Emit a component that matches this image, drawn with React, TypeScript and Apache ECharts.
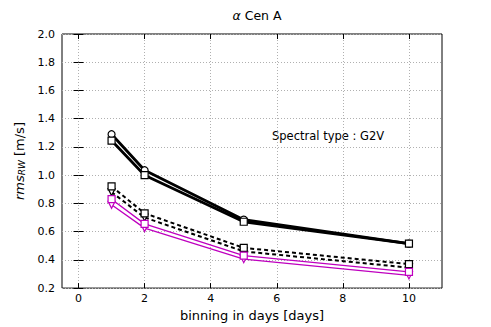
import React, { useEffect, useRef } from "react";
import * as echarts from "echarts";

const binning = [1, 2, 5, 10];
const solidCircle = [1.29, 1.035, 0.685, 0.515];
const solidSquare = [1.245, 1.0, 0.67, 0.515];
const dashedSquare = [0.92, 0.73, 0.485, 0.37];
const dashedTriangle = [0.88, 0.7, 0.46, 0.345];
const magentaSquare = [0.83, 0.655, 0.43, 0.315];
const magentaTriangle = [0.79, 0.625, 0.405, 0.29];

const xTicks = [0, 2, 4, 6, 8, 10];

const FONT = "DejaVu Sans";
const MAGENTA = "#bf00bf";

function pairs(vals: number[]) {
  return binning.map((b, i) => [b, vals[i]]);
}

export default function App() {
  const ref = useRef<HTMLDivElement>(null);
  useEffect(() => {
    const chart = echarts.init(ref.current!, null, { renderer: "svg" });
    const mk = (
      name: string,
      data: number[],
      color: string,
      width: number,
      type: any,
      symbol: string,
      size: any,
      z: number
    ) => ({
      name,
      type: "line",
      data: pairs(data),
      symbol,
      symbolSize: size,
      showAllSymbol: true,
      lineStyle: { color, width, type },
      itemStyle: { color: "#ffffff", borderColor: color, borderWidth: 1.2 },
      z,
    });
    const tri = "path://M0,0 L10,0 L5,9 Z";
    chart.setOption({
      animation: false,
      title: {
        text: "{a|α} Cen A",
        left: 252,
        textAlign: "center",
        top: 4,
        textStyle: {
          fontFamily: FONT,
          fontSize: 12.5,
          fontWeight: "normal",
          color: "#000",
          rich: { a: { fontFamily: FONT, fontStyle: "italic", fontSize: 12.5, color: "#000" } },
        },
      },
      grid: { left: 62, right: 49, top: 34, bottom: 33, show: true, borderColor: "#000", borderWidth: 1, backgroundColor: "transparent" },
      xAxis: [
        {
          type: "value",
          min: -0.5,
          max: 11,
          position: "bottom",
          name: "binning in days [days]",
          nameLocation: "middle",
          nameGap: 18,
          nameTextStyle: { fontFamily: FONT, fontSize: 13, color: "#000" },
          axisLine: { show: false },
          axisTick: { show: true, inside: true, length: 5, lineStyle: { color: "#000" }, customValues: xTicks },
          axisLabel: {
            fontFamily: FONT,
            fontSize: 11,
            color: "#000",
            margin: 5,
            customValues: xTicks,
          },
          splitLine: { show: true, lineStyle: { color: "#b0b0b0", type: [1, 2], width: 1 } },
        },
        {
          type: "value",
          min: -0.5,
          max: 11,
          position: "top",
          axisLine: { show: false },
          axisTick: { show: true, inside: true, length: 5, lineStyle: { color: "#000" }, customValues: xTicks },
          axisLabel: { show: false },
          splitLine: { show: false },
        },
      ],
      yAxis: [
        {
          type: "value",
          min: 0.2,
          max: 2.0,
          interval: 0.2,
          position: "left",
          name: "{i|rms}{s|RW} [m/s]",
          nameLocation: "middle",
          nameGap: 30,
          nameRotate: 90,
          nameTextStyle: {
            fontFamily: FONT,
            fontSize: 13,
            color: "#000",
            rich: {
              i: { fontFamily: FONT, fontStyle: "italic", fontSize: 13, color: "#000" },
              s: { fontFamily: FONT, fontStyle: "italic", fontSize: 9, color: "#000", padding: [6, 0, 0, 0] },
            },
          },
          axisLine: { show: false },
          axisTick: { show: true, inside: true, length: 5, lineStyle: { color: "#000" } },
          axisLabel: {
            fontFamily: FONT,
            fontSize: 11,
            color: "#000",
            margin: 7,
            formatter: (v: number) => v.toFixed(1),
          },
          splitLine: { show: true, lineStyle: { color: "#b0b0b0", type: [1, 2], width: 1 } },
        },
        {
          type: "value",
          min: 0.2,
          max: 2.0,
          interval: 0.2,
          position: "right",
          axisLine: { show: false },
          axisTick: { show: true, inside: true, length: 5, lineStyle: { color: "#000" } },
          axisLabel: { show: false },
          splitLine: { show: false },
        },
      ],
      graphic: [
        {
          type: "text",
          left: 272,
          top: 130,
          style: { text: "Spectral type : G2V", fontFamily: FONT, fontSize: 11.5, fill: "#000" },
        },
      ],
      series: [
        mk("solidCircle", solidCircle, "#000", 2.8, "solid", "circle", 7, 3),
        mk("solidSquare", solidSquare, "#000", 2.8, "solid", "rect", 7, 4),
        mk("dashedTriangle", dashedTriangle, "#000", 2, [4, 3], tri, [7, 7], 5),
        mk("dashedSquare", dashedSquare, "#000", 2, [4, 3], "rect", 7, 6),
        mk("magentaTriangle", magentaTriangle, MAGENTA, 1.3, "solid", tri, [7, 7], 7),
        mk("magentaSquare", magentaSquare, MAGENTA, 1.3, "solid", "rect", 7, 8),
      ],
    } as any);
    return () => chart.dispose();
  }, []);
  return <div ref={ref} style={{ width: 491, height: 327, position: "absolute", left: 0, top: 0 }} />;
}
